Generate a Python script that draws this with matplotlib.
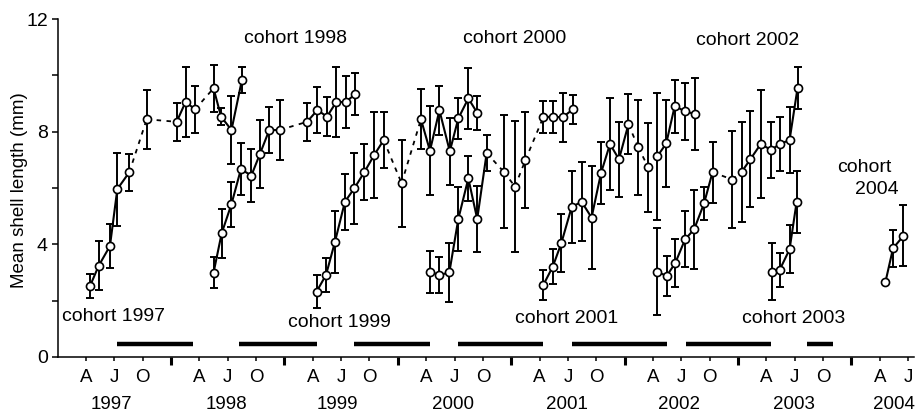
import matplotlib
matplotlib.use('Agg')
import matplotlib.pyplot as plt
import matplotlib.transforms as mtransforms

plt.rcParams['font.family'] = ['Liberation Sans', 'DejaVu Sans']

# months counted from 1 Jan 1997 (0 = Jan 1997, 12 = Jan 1998, ...)
MONTH_1997 = [3.43, 4.35, 5.54, 6.32, 7.59, 9.43, 12.6, 13.55, 14.54, 16.5, 17.3, 18.4, 19.5]
MEAN_1997 = [2.52, 3.24, 3.94, 5.96, 6.56, 8.44, 8.35, 9.06, 8.79, 9.54, 8.53, 8.06, 9.83]
SD_1997 = [0.42, 0.87, 0.78, 1.3, 0.66, 1.05, 0.68, 1.25, 0.82, 0.84, 0.3, 1.2, 0.46]

MONTH_1998 = [16.5, 17.36, 18.4, 19.4, 20.5, 21.4, 22.4, 23.5, 26.4, 27.5, 28.5, 29.5, 30.5, 31.5]
MEAN_1998 = [2.99, 4.39, 5.43, 6.67, 6.44, 7.2, 8.06, 8.06, 8.35, 8.77, 8.53, 9.06, 9.06, 9.33]
SD_1998 = [0.55, 0.87, 0.8, 0.93, 0.93, 1.2, 0.83, 1.07, 0.68, 0.82, 0.69, 1.25, 0.93, 0.75]

MONTH_1999 = [27.4, 28.4, 29.35, 30.4, 31.4, 32.45, 33.5, 34.5, 36.4, 38.45, 39.4, 40.4,
              41.5, 42.4, 43.46, 44.4]
MEAN_1999 = [2.32, 2.91, 4.09, 5.51, 5.99, 6.56, 7.17, 7.7, 6.17, 8.44, 7.32, 8.76,
             7.3, 8.47, 9.18, 8.67]
SD_1999 = [0.58, 0.62, 1.1, 1.0, 1.27, 1.0, 1.54, 1.0, 1.55, 1.07, 1.58, 0.87,
           1.2, 0.72, 1.07, 0.6]

MONTH_2000 = [39.4, 40.4, 41.45, 42.4, 43.46, 44.4, 45.4, 47.2, 48.4, 49.5, 51.4, 52.45, 53.45, 54.5]
MEAN_2000 = [3.03, 2.91, 3.0, 4.9, 6.34, 4.9, 7.24, 6.58, 6.05, 6.99, 8.52, 8.53, 8.51, 8.79]
SD_2000 = [0.75, 0.63, 1.05, 1.14, 0.8, 1.16, 0.63, 2.0, 2.33, 1.7, 0.57, 0.57, 0.86, 0.52]

MONTH_2001 = [51.4, 52.4, 53.3, 54.4, 55.45, 56.5, 57.5, 58.45, 59.4, 60.4, 61.45, 62.5,
              63.45, 64.4, 65.3, 66.4, 67.4]
MEAN_2001 = [2.56, 3.21, 4.04, 5.33, 5.51, 4.95, 6.53, 7.56, 7.02, 8.26, 7.44, 6.73,
             7.12, 7.58, 8.91, 8.72, 8.63]
SD_2001 = [0.52, 0.62, 1.02, 1.28, 1.4, 1.83, 1.1, 1.64, 1.33, 1.06, 1.69, 1.58,
           2.27, 1.54, 0.94, 1.0, 1.28]

MONTH_2002 = [63.4, 64.45, 65.35, 66.4, 67.35, 68.4, 69.3, 71.4, 72.4, 73.3, 74.4, 75.5,
              76.4, 77.45, 78.3]
MEAN_2002 = [3.03, 2.88, 3.33, 4.18, 4.53, 5.45, 6.56, 6.3, 6.58, 7.02, 7.56, 7.35,
             7.56, 7.7, 9.56]
SD_2002 = [1.55, 0.71, 0.85, 1.0, 1.4, 0.6, 1.08, 1.72, 1.78, 1.7, 1.93, 0.98,
           0.96, 1.17, 0.74]

MONTH_2003 = [75.56, 76.4, 77.45, 78.2]
MEAN_2003 = [3.03, 3.09, 3.82, 5.51]
SD_2003 = [1.02, 0.6, 0.85, 1.1]

MONTH_2004 = [87.6, 88.4, 89.5]
MEAN_2004 = [2.67, 3.86, 4.3]
SD_2004 = [0.0, 0.65, 1.08]

# line segments (index of first point) drawn dashed
DASHED = {1997: [4, 5, 8], 1998: [7], 1999: [7, 8], 2000: [6, 7, 8, 9],
          2001: [9, 10, 11], 2002: [6, 7], 2003: [], 2004: []}

# black bars along the bottom
BAR_START = [6.25, 19.2, 31.4, 42.4, 54.4, 66.5, 79.3]
BAR_END = [14.35, 27.4, 39.4, 51.4, 64.45, 75.5, 82.0]
BAR_LEVEL = 0.46

MONTH_TICKS = [3, 6, 9, 15, 18, 21, 27, 30, 33, 39, 42, 45, 51, 54, 57,
               63, 66, 69, 75, 78, 81, 87, 90]
MONTH_LABELS = ['A', 'J', 'O'] * 7 + ['A', 'J']
YEAR_TICKS = [12, 24, 36, 48, 60, 72, 84]
YEARS = ['1997', '1998', '1999', '2000', '2001', '2002', '2003', '2004']
YEAR_POS = [5.7, 17.9, 29.6, 41.8, 53.9, 65.8, 77.9, 88.5]


def draw_cohort(ax, months, means, sds, dashed):
    ax.errorbar(months, means, yerr=sds, fmt='none', ecolor='black',
                elinewidth=1.4, capsize=3, capthick=1.4, zorder=2)
    for i in range(len(months) - 1):
        if i in dashed:
            ax.plot(months[i:i + 2], means[i:i + 2], color='black', lw=1.3,
                    ls=(0, (2.5, 3)), zorder=3)
        else:
            ax.plot(months[i:i + 2], means[i:i + 2], color='black', lw=1.5, zorder=3)
    ax.plot(months, means, 'o', mfc='white', mec='black', ms=5.8, mew=1.2, zorder=4)


fig = plt.figure(figsize=(9.2, 4.15), dpi=100)
ax = fig.add_axes([0.0626, 0.1398, 0.9307, 0.8144])

cohorts = [
    (1997, MONTH_1997, MEAN_1997, SD_1997),
    (1998, MONTH_1998, MEAN_1998, SD_1998),
    (1999, MONTH_1999, MEAN_1999, SD_1999),
    (2000, MONTH_2000, MEAN_2000, SD_2000),
    (2001, MONTH_2001, MEAN_2001, SD_2001),
    (2002, MONTH_2002, MEAN_2002, SD_2002),
    (2003, MONTH_2003, MEAN_2003, SD_2003),
    (2004, MONTH_2004, MEAN_2004, SD_2004),
]
for year, months, means, sds in cohorts:
    draw_cohort(ax, months, means, sds, DASHED[year])

ax.hlines([BAR_LEVEL] * len(BAR_START), BAR_START, BAR_END, colors='black', lw=3.2)

ax.set_xlim(0, 90.6)
ax.set_ylim(0, 12)

for side in ['top', 'right']:
    ax.spines[side].set_visible(False)
for side in ['left', 'bottom']:
    ax.spines[side].set_linewidth(1.1)

ax.set_yticks([0, 4, 8, 12])
ax.set_yticks([2, 6, 10], minor=True)
ax.tick_params(axis='y', which='both', direction='out', length=4, width=1.1,
               labelsize=14, pad=3)

ax.set_xticks(YEAR_TICKS)
ax.set_xticklabels([])
ax.set_xticks(MONTH_TICKS, minor=True)
ax.set_xticklabels(MONTH_LABELS, minor=True)
ax.tick_params(axis='x', which='major', direction='out', length=6, width=2.2)
ax.tick_params(axis='x', which='minor', direction='out', length=3, width=1.1,
               labelsize=13.5, pad=6)

trans = mtransforms.blended_transform_factory(ax.transData, ax.transAxes)
for pos, year in zip(YEAR_POS, YEARS):
    ax.text(pos, -0.14, year, transform=trans, ha='center', va='center', fontsize=13.5)

fig.text(20 / 920, 1 - 190 / 415, 'Mean shell length (mm)', rotation=90,
         ha='center', va='center', fontsize=13.5)

ax.text(0.47, 1.42, 'cohort 1997', fontsize=14, va='center')
ax.text(19.7, 11.32, 'cohort 1998', fontsize=14, va='center')
ax.text(24.4, 1.24, 'cohort 1999', fontsize=14, va='center')
ax.text(42.9, 11.32, 'cohort 2000', fontsize=14, va='center')
ax.text(48.4, 1.38, 'cohort 2001', fontsize=14, va='center')
ax.text(67.55, 11.25, 'cohort 2002', fontsize=14, va='center')
ax.text(72.4, 1.38, 'cohort 2003', fontsize=14, va='center')
ax.text(82.5, 6.71, 'cohort', fontsize=14, va='center')
ax.text(84.4, 5.93, '2004', fontsize=14, va='center')

plt.savefig('out.png', dpi=100)
